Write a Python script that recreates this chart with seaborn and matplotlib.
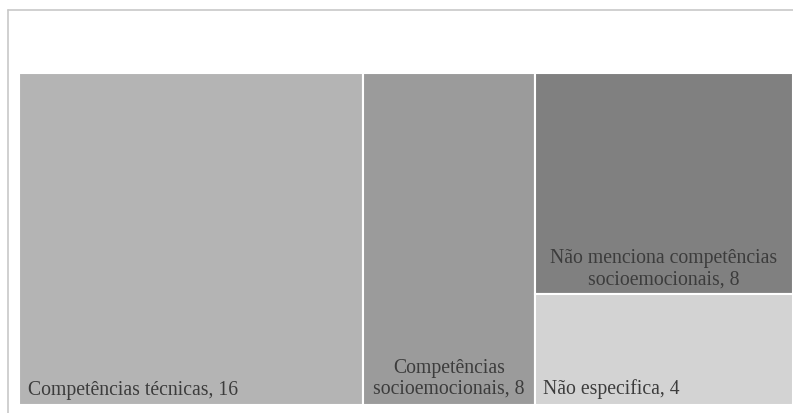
import matplotlib
matplotlib.use("Agg")
import matplotlib.pyplot as plt
from matplotlib.lines import Line2D
import seaborn as sns

# ---- data ----
categories = ["Competências técnicas", "Competências socioemocionais",
              "Não menciona competências socioemocionais", "Não especifica"]
values = [16, 8, 8, 4]
labels = ["Competências técnicas, 16", "Competências\nsocioemocionais, 8",
          "Não menciona competências\nsocioemocionais, 8", "Não especifica, 4"]
colors = ["#b4b4b4", "#9b9b9b", "#808080", "#d3d3d3"]

sns.set_theme(style="white")
plt.rcParams["font.family"] = ["Liberation Serif", "DejaVu Serif"]

W, H = 793, 414
fig = plt.figure(figsize=(W / 100, H / 100), dpi=100)
ax_left, ax_right, ax_top, ax_bottom = 19, 793, 74, 406
ax = fig.add_axes([ax_left / W, 1 - ax_bottom / H,
                   (ax_right - ax_left) / W, (ax_bottom - ax_top) / H])

# ---- squarify layout (origin top-left) ----
aw, ah = float(ax_right - ax_left), float(ax_bottom - ax_top)
total = sum(values)
sizes = [v * aw * ah / total for v in values]


def worst(row, w):
    s = sum(row)
    return max(max(w * w * r / (s * s), (s * s) / (w * w * r)) for r in row)


def layout(row, x, y, dx, dy):
    s = sum(row)
    rects = []
    if dx >= dy:  # column on the left
        width = s / dy
        yy = y
        for r in row:
            h = r / width
            rects.append((x, yy, width, h))
            yy += h
        return rects, (x + width, y, dx - width, dy)
    else:  # row on top
        height = s / dx
        xx = x
        for r in row:
            w = r / height
            rects.append((xx, y, w, height))
            xx += w
        return rects, (x, y + height, dx, dy - height)


def squarify(sz, x, y, dx, dy):
    out = []
    rest = list(sz)
    while rest:
        row = [rest.pop(0)]
        side = min(dx, dy)
        while rest and worst(row + [rest[0]], side) <= worst(row, side):
            row.append(rest.pop(0))
        rects, (x, y, dx, dy) = layout(row, x, y, dx, dy)
        out.extend(rects)
    return out


rects = squarify(sizes, 0.0, 0.0, aw, ah)

for (x, y, w, h), c in zip(rects, colors):
    ax.bar(x, h, width=w, bottom=y, align="edge", color=c,
           edgecolor="white", linewidth=1.5)

ax.set_xlim(0, aw)
ax.set_ylim(ah, 0)
ax.set_axis_off()

# ---- labels ----
txt_color = "#3c3c3c"
fs = 14.2
ls = 1.14
(x0, y0, w0, h0), (x1, y1, w1, h1), (x2, y2, w2, h2), (x3, y3, w3, h3) = rects
ax.annotate(labels[0], (x0, y0 + h0), xytext=(9, 11), textcoords="offset pixels",
            ha="left", va="baseline", fontsize=fs, color=txt_color)
ax.annotate(labels[1], (x1 + w1 / 2, y1 + h1), xytext=(0, 7), textcoords="offset pixels",
            ha="center", va="bottom", fontsize=fs, color=txt_color,
            multialignment="center", linespacing=ls)
ax.annotate(labels[2], (x2 + w2 / 2, y2 + h2), xytext=(0, 6), textcoords="offset pixels",
            ha="center", va="bottom", fontsize=fs, color=txt_color,
            multialignment="center", linespacing=ls)
ax.annotate(labels[3], (x3, y3 + h3), xytext=(8, 12), textcoords="offset pixels",
            ha="left", va="baseline", fontsize=fs, color=txt_color)

# ---- outer frame (left and top edges visible) ----
fx, fy = 7.5 / W, 1 - 10.5 / H
fig.add_artist(Line2D([fx, fx], [-0.1, fy], color="#c8c8c8", lw=1.2,
                      transform=fig.transFigure))
fig.add_artist(Line2D([fx, 1.1], [fy, fy], color="#c8c8c8", lw=1.2,
                      transform=fig.transFigure))

fig.savefig("out.png", dpi=100)
